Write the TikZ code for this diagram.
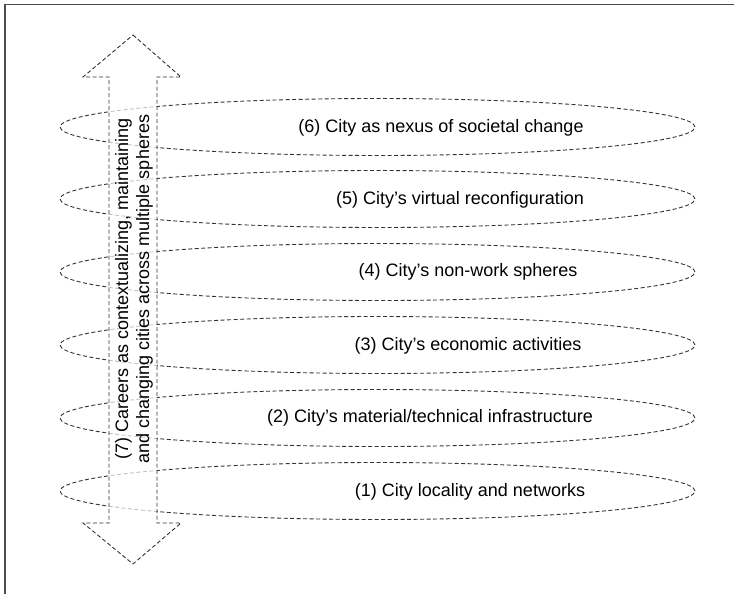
\documentclass[tikz,border=0pt]{standalone}
\usepackage{fontspec}
\setmainfont{Liberation Sans}
\usetikzlibrary{shapes.geometric}

\tikzset{
  sphere/.style={ellipse,draw=black!80,dash pattern=on 4pt off 2.5pt,line width=0.9pt,
    minimum width=635pt,minimum height=57pt,inner sep=0pt},
  spherelabel/.style={font=\fontsize{18}{21}\selectfont,inner sep=0pt},
  bigarrow/.style={draw=black!80,dash pattern=on 4pt off 2.5pt,line width=0.9pt,
    fill=white,fill opacity=0.7}
}

\begin{document}
\begin{tikzpicture}[x=1pt,y=-1pt]

\useasboundingbox (0,0) rectangle (734,594) ;

% frame
\draw [black!70,line width=1.5pt] (5,594) -- (5,4.5) -- (734,4.5) ;

% spheres
\node [sphere] (e6) at (377.5,127) {} ;
\node [sphere] (e5) at (377.5,199) {} ;
\node [sphere] (e4) at (377.5,272) {} ;
\node [sphere] (e3) at (377.5,345) {} ;
\node [sphere] (e2) at (377.5,418) {} ;
\node [sphere] (e1) at (377.5,491) {} ;

\node [spherelabel] (t6) at (441,128) {(6) City as nexus of societal change} ;
\node [spherelabel] (t5) at (460,200) {(5) City’s virtual reconfiguration} ;
\node [spherelabel] (t4) at (468,272) {(4) City’s non-work spheres} ;
\node [spherelabel] (t3) at (468,346) {(3) City’s economic activities} ;
\node [spherelabel] (t2) at (430,418) {(2) City’s material/technical infrastructure} ;
\node [spherelabel] (t1) at (470,492) {(1) City locality and networks} ;

% careers arrow
\draw [bigarrow] (133,35) -- (181,77) -- (157,77) -- (157,523) -- (181,523)
  -- (133,564) -- (83,523) -- (109,523) -- (109,77) -- (83,77) -- cycle ;

\node [spherelabel,rotate=90,align=center,text opacity=1] (t7) at (134,289)
  {(7) Careers as contextualizing, maintaining\\and changing cities across multiple spheres} ;

\end{tikzpicture}
\end{document}
